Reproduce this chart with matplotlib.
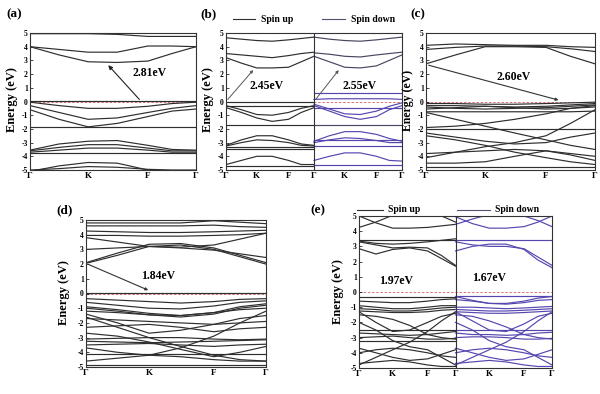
import matplotlib
matplotlib.use("Agg")
import matplotlib.pyplot as plt
import numpy as np

# ---------------- data (energies in eV at Γ, mid, K, mid, F, mid, Γ) ----------------
K_LABELS = ["Γ", "K", "F", "Γ"]
K_LABELS_SPIN = ["Γ", "K", "F", "Γ", "K", "F", "Γ"]

A_CB = [[4.95, 4.95, 4.95, 4.9, 4.75, 4.75, 4.75],
        [4.0, 3.8, 3.6, 3.6, 4.05, 4.05, 4.0],
        [4.0, 3.4, 2.9, 2.85, 2.95, 3.5, 4.0]]
A_VB = [[0.05, 0.05, 0.05, 0.05, 0.05, 0.05, 0.05],
        [-0.05, -0.3, -0.5, -0.5, -0.35, -0.15, -0.05],
        [-0.3, -0.8, -1.3, -1.2, -0.8, -0.5, -0.3],
        [-0.6, -1.3, -1.85, -1.6, -1.1, -0.7, -0.55],
        [-1.85, -1.85, -1.85, -1.85, -1.85, -1.85, -1.85],
        [-3.55, -3.1, -2.9, -2.85, -3.2, -3.5, -3.55],
        [-3.6, -3.35, -3.15, -3.15, -3.4, -3.6, -3.6],
        [-3.7, -3.55, -3.4, -3.4, -3.55, -3.7, -3.7],
        [-3.75, -3.75, -3.75, -3.75, -3.75, -3.75, -3.75],
        [-5.1, -4.7, -4.45, -4.5, -5.0, -5.2, -5.2],
        [-5.0, -4.9, -4.75, -4.8, -4.95, -5.0, -5.0]]

B_UP_CB = [[4.65, 4.55, 4.45, 4.4, 4.5, 4.6, 4.7],
           [3.5, 3.4, 3.3, 3.2, 3.35, 3.5, 3.6],
           [3.2, 2.8, 2.45, 2.45, 2.5, 2.9, 3.3]]
B_UP_VB = [[0.0, 0.0, 0.0, 0.0, 0.0, 0.0, 0.0],
           [-0.3, -0.6, -0.95, -1.0, -0.8, -0.5, -0.3],
           [-0.45, -0.8, -1.2, -1.45, -1.3, -0.8, -0.45],
           [-0.35, -0.35, -0.35, -0.35, -0.35, -0.35, -0.35],
           [-1.7, -1.7, -1.7, -1.7, -1.7, -1.7, -1.7],
           [-3.2, -2.8, -2.5, -2.5, -2.8, -3.1, -3.2],
           [-3.25, -3.0, -2.8, -2.85, -3.0, -3.2, -3.25],
           [-3.3, -3.3, -3.3, -3.3, -3.3, -3.3, -3.3],
           [-3.5, -3.5, -3.5, -3.5, -3.5, -3.5, -3.5],
           [-4.6, -4.3, -4.0, -4.0, -4.3, -4.6, -4.6],
           [-4.7, -4.7, -4.7, -4.7, -4.7, -4.7, -4.7]]
B_DN_CB = [[4.7, 4.55, 4.45, 4.4, 4.5, 4.6, 4.7],
           [3.55, 3.45, 3.3, 3.25, 3.4, 3.5, 3.6],
           [3.3, 2.9, 2.5, 2.45, 2.6, 3.0, 3.4],
           [-1.7, -1.7, -1.7, -1.7, -1.7, -1.7, -1.7]]
B_DN_VB = [[0.65, 0.65, 0.65, 0.65, 0.65, 0.65, 0.65],
           [0.15, 0.2, 0.2, 0.2, 0.2, 0.2, 0.15],
           [-0.2, -0.55, -0.9, -0.95, -0.7, -0.35, -0.1],
           [-0.3, -0.7, -1.1, -1.3, -1.1, -0.6, -0.3],
           [-0.5, -0.5, -0.5, -0.5, -0.5, -0.5, -0.5],
           [-2.9, -2.5, -2.2, -2.2, -2.4, -2.7, -2.9],
           [-2.8, -2.8, -2.8, -2.8, -2.8, -2.8, -2.8],
           [-3.0, -2.8, -2.65, -2.7, -2.85, -3.0, -3.0],
           [-3.25, -3.25, -3.25, -3.25, -3.25, -3.25, -3.25],
           [-4.3, -4.0, -3.75, -3.75, -4.0, -4.3, -4.35],
           [-4.6, -4.6, -4.6, -4.6, -4.6, -4.6, -4.6]]

C_CB = [[3.8, 3.95, 4.05, 4.05, 4.0, 3.85, 3.65],
        [2.75, 3.4, 4.0, 4.0, 3.95, 3.3, 2.75],
        [4.1, 4.2, 4.15, 4.1, 4.1, 4.0, 3.95]]
C_VB = [[-0.15, -0.15, -0.2, -0.2, -0.15, -0.1, -0.05],
        [-0.3, -0.3, -0.35, -0.4, -0.35, -0.25, -0.15],
        [-0.4, -0.5, -0.55, -0.5, -0.45, -0.35, -0.25],
        [-0.55, -0.45, -0.35, -0.45, -0.55, -0.5, -0.4],
        [-0.75, -0.75, -0.75, -0.75, -0.75, -0.75, -0.7],
        [-0.8, -1.3, -1.8, -2.3, -2.8, -3.2, -3.5],
        [-1.9, -1.8, -1.6, -1.3, -0.9, -0.5, -0.3],
        [-2.0, -2.0, -2.0, -2.0, -2.0, -2.0, -2.0],
        [-2.3, -2.6, -2.9, -3.1, -3.0, -2.6, -2.3],
        [-4.1, -3.7, -3.3, -3.0, -2.5, -1.6, -0.6],
        [-3.8, -3.7, -3.6, -3.5, -3.6, -3.8, -4.0],
        [-4.5, -4.5, -4.4, -4.0, -3.6, -3.9, -4.3],
        [-4.75, -4.75, -4.75, -4.75, -4.75, -4.75, -4.75],
        [-2.5, -2.8, -3.2, -3.7, -4.1, -4.4, -4.6]]

D_CB = [[4.8, 4.8, 4.8, 4.8, 4.95, 4.85, 4.75],
        [4.6, 4.6, 4.6, 4.6, 4.65, 4.55, 4.5],
        [4.25, 4.2, 4.15, 4.15, 4.2, 4.25, 4.3],
        [3.95, 3.95, 3.9, 3.9, 3.95, 4.0, 4.1],
        [3.8, 3.5, 3.2, 3.15, 3.3, 3.7, 4.1],
        [2.05, 2.6, 3.2, 3.3, 3.0, 2.5, 2.0],
        [2.1, 2.75, 3.35, 3.4, 3.1, 2.6, 2.1],
        [3.0, 3.1, 3.2, 3.1, 2.95, 2.7, 2.45]]
D_VB = [[0.05, 0.05, 0.05, 0.05, 0.05, 0.05, 0.05],
        [-0.35, -0.45, -0.55, -0.65, -0.55, -0.4, -0.35],
        [-0.6, -0.8, -1.0, -1.05, -0.85, -0.6, -0.5],
        [-0.9, -1.1, -1.35, -1.5, -1.3, -0.9, -0.7],
        [-1.0, -1.2, -1.45, -1.6, -1.4, -1.0, -0.8],
        [-1.2, -1.3, -1.45, -1.5, -1.3, -1.1, -1.0],
        [-1.4, -2.0, -2.7, -2.5, -2.1, -1.7, -1.5],
        [-1.7, -1.8, -1.9, -2.0, -2.1, -2.0, -1.9],
        [-2.3, -2.2, -2.1, -2.3, -2.6, -2.4, -2.3],
        [-3.1, -3.05, -3.0, -3.0, -3.1, -3.15, -3.1],
        [-3.25, -3.3, -3.35, -3.3, -3.25, -3.2, -3.15],
        [-3.5, -3.45, -3.4, -3.5, -3.6, -3.5, -3.45],
        [-3.7, -4.0, -4.2, -3.7, -2.9, -2.0, -1.2],
        [-1.6, -2.3, -3.0, -3.6, -4.2, -4.5, -4.6],
        [-4.1, -4.1, -4.1, -4.1, -4.1, -4.1, -4.1],
        [-4.6, -4.4, -4.2, -4.3, -4.5, -4.6, -4.6],
        [-4.85, -4.85, -4.85, -4.85, -4.85, -4.85, -4.85],
        [-2.7, -2.9, -3.3, -3.8, -4.3, -4.0, -3.6]]

E_UP_CB = [[5.0, 4.55, 4.2, 4.2, 4.25, 4.35, 4.45],
           [4.25, 4.6, 5.05, 5.1, 5.1, 5.0, 4.6],
           [3.45, 3.45, 3.45, 3.45, 3.45, 3.45, 3.45],
           [3.3, 3.1, 2.9, 2.95, 2.9, 2.4, 1.75],
           [2.85, 2.5, 2.8, 2.9, 2.7, 2.2, 1.7],
           [3.35, 3.2, 3.15, 3.2, 3.3, 3.4, 3.5]]
E_UP_VB = [[-0.3, -0.3, -0.3, -0.3, -0.3, -0.3, -0.3],
           [-0.6, -0.65, -0.7, -0.7, -0.6, -0.5, -0.45],
           [-0.9, -1.0, -1.1, -1.1, -1.0, -0.9, -0.9],
           [-1.1, -1.15, -1.25, -1.25, -1.15, -1.05, -1.0],
           [-1.25, -1.3, -1.35, -1.35, -1.3, -1.2, -1.15],
           [-1.3, -2.0, -2.6, -2.5, -2.0, -1.6, -1.4],
           [-1.5, -1.6, -1.8, -2.2, -2.8, -3.0, -3.1],
           [-2.5, -2.5, -2.5, -2.5, -2.5, -2.5, -2.5],
           [-2.7, -2.75, -2.8, -2.85, -2.8, -2.7, -2.6],
           [-3.0, -2.95, -2.9, -3.0, -3.1, -3.1, -3.05],
           [-3.2, -3.2, -3.2, -3.2, -3.2, -3.2, -3.2],
           [-4.8, -4.3, -3.8, -3.3, -2.6, -1.9, -1.3],
           [-3.7, -4.0, -4.3, -4.5, -4.4, -4.1, -3.8],
           [-4.0, -3.8, -3.7, -3.8, -4.0, -4.2, -4.3],
           [-4.7, -4.6, -4.5, -4.6, -4.8, -4.9, -4.9],
           [-2.0, -2.5, -3.2, -3.6, -3.8, -4.3, -4.8]]
E_DN_CB = [[4.45, 4.8, 5.1, 5.1, 5.0, 4.7, 4.3],
           [4.95, 4.5, 4.2, 4.2, 4.3, 4.6, 5.0],
           [3.45, 3.45, 3.45, 3.45, 3.45, 3.45, 3.45],
           [3.3, 3.1, 3.0, 3.0, 2.85, 2.3, 1.75],
           [2.7, 3.0, 3.15, 3.15, 2.8, 2.1, 1.6]]
E_DN_VB = [[-0.25, -0.25, -0.25, -0.25, -0.25, -0.25, -0.25],
           [-0.3, -0.55, -0.75, -0.75, -0.6, -0.4, -0.3],
           [-0.5, -0.6, -0.75, -0.8, -0.7, -0.55, -0.5],
           [-1.0, -1.0, -1.05, -1.1, -1.05, -1.0, -0.95],
           [-1.15, -1.2, -1.25, -1.25, -1.2, -1.15, -1.1],
           [-1.3, -1.35, -1.4, -1.4, -1.35, -1.3, -1.25],
           [-1.3, -1.9, -2.5, -2.6, -2.1, -1.6, -1.4],
           [-1.5, -1.6, -1.9, -2.3, -2.8, -3.0, -3.1],
           [-2.5, -2.5, -2.5, -2.5, -2.5, -2.5, -2.5],
           [-2.7, -2.8, -2.8, -2.85, -2.8, -2.7, -2.65],
           [-3.0, -2.95, -2.95, -3.0, -3.1, -3.1, -3.05],
           [-4.8, -4.3, -3.8, -3.3, -2.6, -1.9, -1.3],
           [-3.7, -4.0, -4.3, -4.5, -4.4, -4.1, -3.8],
           [-4.0, -3.8, -3.7, -3.8, -4.0, -4.2, -4.3],
           [-4.7, -4.6, -4.5, -4.6, -4.8, -4.9, -4.9],
           [-2.0, -2.5, -3.2, -3.6, -3.8, -4.3, -4.8]]

GAP_A = "2.81eV"
GAP_B = ["2.45eV", "2.55eV"]
GAP_C = "2.60eV"
GAP_D = "1.84eV"
GAP_E = ["1.97eV", "1.67eV"]

# ---------------- style / layout ----------------
NODES = np.array([0.0, 0.175, 0.35, 0.525, 0.71, 0.855, 1.0])
TICKS = [0.0, 0.35, 0.71, 1.0]
UP_C = "#2e2e2e"
DN_C = "#5547b0"
CB_DN_C = "#4a4560"
SERIF = ["Liberation Serif", "DejaVu Serif"]

plt.rcParams["font.family"] = SERIF
plt.rcParams["font.weight"] = "bold"

fig = plt.figure(figsize=(6.0, 3.94), dpi=100)


def px_ax(l, r, t, b):
    W, H = 600.0, 394.0
    return fig.add_axes([l / W, 1 - b / H, (r - l) / W, (b - t) / H])


def draw(ax, bands, x0, color, lw=0.85):
    for e in bands:
        ax.plot(NODES + x0, e, color=color, lw=lw, solid_joinstyle="round")


def setup(ax, nseg):
    ax.set_ylim(-5, 5)
    ax.set_xlim(0, nseg)
    ax.set_yticks(range(-5, 6))
    ax.set_yticklabels([str(v) for v in range(-5, 6)], fontsize=5.5, fontweight="bold")
    ticks = []
    for s in range(nseg):
        ticks += [t + s for t in TICKS[:-1]]
    ticks.append(nseg)
    ax.set_xticks(ticks)
    ax.set_xticklabels(K_LABELS if nseg == 1 else K_LABELS_SPIN, fontsize=6.5, fontweight="bold")
    ax.tick_params(axis="both", direction="in", length=2, width=0.5, pad=1.5)
    ax.tick_params(axis="x", length=0)
    for s in ax.spines.values():
        s.set_linewidth(0.8)
        s.set_color("#333333")
    ax.axhline(0, color="#d06060", lw=0.6, ls=(0, (3, 2)), zorder=0)


def ylab(x, y, fs=9):
    fig.text(x / 600, 1 - y / 394, "Energy (eV)", rotation=90, ha="center", va="center",
             fontsize=fs, fontweight="bold")


def plab(x, y, s):
    fig.text(x / 600, 1 - y / 394, s, ha="left", va="center", fontsize=9.5, fontweight="bold")


# (a)
axa = px_ax(30, 196, 33, 170)
setup(axa, 1)
draw(axa, A_CB, 0, UP_C)
draw(axa, A_VB, 0, UP_C)
axa.annotate("", xy=(0.46, 2.8), xytext=(0.67, 0.0),
             arrowprops=dict(arrowstyle="-|>", color="#222222", lw=0.8, mutation_scale=6))
axa.text(0.72, 2.1, GAP_A, ha="center", va="center", fontsize=8.5, fontweight="bold")
plab(6, 14, "(a)")
ylab(12, 100)

# (b)
axb = px_ax(226, 402, 33, 170)
setup(axb, 2)
draw(axb, B_UP_CB, 0, UP_C)
draw(axb, B_UP_VB, 0, UP_C)
draw(axb, B_DN_CB, 1, CB_DN_C)
draw(axb, B_DN_VB, 1, DN_C)
axb.axvline(1, color="#333333", lw=0.8)
axb.annotate("", xy=(0.33, 2.45), xytext=(0.0, 0.0),
             arrowprops=dict(arrowstyle="-|>", color="#555555", lw=0.7, mutation_scale=4))
axb.annotate("", xy=(1.3, 2.45), xytext=(1.0, 0.0),
             arrowprops=dict(arrowstyle="-|>", color="#555555", lw=0.7, mutation_scale=4))
axb.text(0.46, 1.15, GAP_B[0], ha="center", va="center", fontsize=8.5, fontweight="bold")
axb.text(1.52, 1.15, GAP_B[1], ha="center", va="center", fontsize=8.5, fontweight="bold")
for (x1, x2, tx, lab, c) in [(0.04, 0.165, 0.2, "Spin up", UP_C), (0.545, 0.676, 0.71, "Spin down", "#555070")]:
    axb.plot([x1, x2], [1.10, 1.10], transform=axb.transAxes, clip_on=False, color=c, lw=0.8)
    axb.text(tx, 1.10, lab, transform=axb.transAxes, ha="left", va="center", fontsize=7, fontweight="bold")
plab(200, 14, "(b)")
ylab(208, 100)

# (c)
axc = px_ax(426, 595, 33, 170)
setup(axc, 1)
draw(axc, C_CB, 0, UP_C)
draw(axc, C_VB, 0, UP_C)
axc.annotate("", xy=(0.8, 0.05), xytext=(0.0, 2.7),
             arrowprops=dict(arrowstyle="-|>", color="#333333", lw=0.8, mutation_scale=4))
axc.text(0.52, 1.8, GAP_C, ha="center", va="center", fontsize=8.5, fontweight="bold")
plab(410, 14, "(c)")
ylab(408, 100, fs=8.5)

# (d)
axd = px_ax(86, 266, 220, 367)
setup(axd, 1)
draw(axd, D_CB, 0, UP_C)
draw(axd, D_VB, 0, UP_C)
axd.annotate("", xy=(0.36, 0.15), xytext=(0.0, 2.05),
             arrowprops=dict(arrowstyle="-|>", color="#333333", lw=0.8, mutation_scale=4))
axd.text(0.4, 1.2, GAP_D, ha="center", va="center", fontsize=8.5, fontweight="bold")
plab(56, 210, "(d)")
ylab(64, 293)

# (e)
axe = px_ax(359, 552, 216, 368)
setup(axe, 2)
draw(axe, E_UP_CB, 0, UP_C)
draw(axe, E_UP_VB, 0, UP_C)
draw(axe, E_DN_CB, 1, DN_C)
draw(axe, E_DN_VB, 1, DN_C)
axe.axvline(1, color="#333333", lw=0.8)
axe.text(0.38, 0.75, GAP_E[0], ha="center", va="center", fontsize=8.5, fontweight="bold")
axe.text(1.35, 0.95, GAP_E[1], ha="center", va="center", fontsize=8.5, fontweight="bold")
for (x1, x2, tx, lab, c) in [(-0.01, 0.125, 0.15, "Spin up", UP_C), (0.508, 0.679, 0.705, "Spin down", "#555070")]:
    axe.plot([x1, x2], [1.04, 1.04], transform=axe.transAxes, clip_on=False, color=c, lw=0.8)
    axe.text(tx, 1.04, lab, transform=axe.transAxes, ha="left", va="center", fontsize=7, fontweight="bold")
plab(310, 210, "(e)")
ylab(338, 292)

fig.savefig("out.png", dpi=100)
